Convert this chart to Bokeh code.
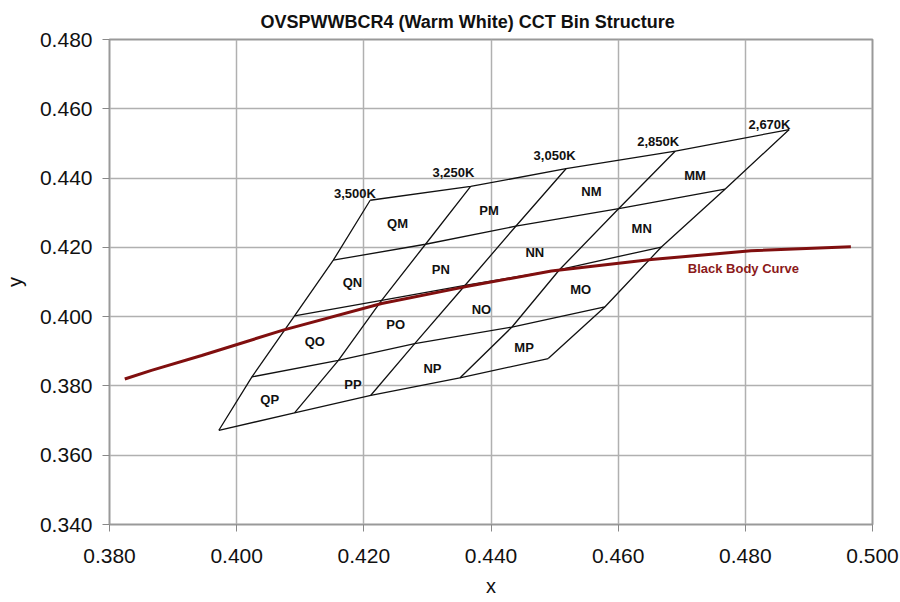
from bokeh.plotting import figure
from bokeh.models import Range1d, FixedTicker, NumeralTickFormatter, Title
from bokeh.core.properties import value
from bokeh.embed import file_html
from bokeh.resources import INLINE

FONT = "Liberation Sans"

# CCT boundary lines: points at rows [top, M/N, N/O, O/P, bottom]
cct_3500_x = [0.4210, 0.4152, 0.4091, 0.4024, 0.3972]
cct_3500_y = [0.4336, 0.4163, 0.4002, 0.3826, 0.3672]
cct_3250_x = [0.4368, 0.4297, 0.4228, 0.4160, 0.4091]
cct_3250_y = [0.4376, 0.4209, 0.4047, 0.3874, 0.3722]
cct_3050_x = [0.4518, 0.4439, 0.4359, 0.4280, 0.4211]
cct_3050_y = [0.4427, 0.4261, 0.4090, 0.3922, 0.3773]
cct_2850_x = [0.4690, 0.4601, 0.4508, 0.4433, 0.4351]
cct_2850_y = [0.4478, 0.4312, 0.4136, 0.3970, 0.3823]
cct_2670_x = [0.4869, 0.4768, 0.4668, 0.4579, 0.4490]
cct_2670_y = [0.4540, 0.4368, 0.4201, 0.4028, 0.3879]

# CCT labels
cct_names = ["3,500K", "3,250K", "3,050K", "2,850K", "2,670K"]
cct_label_x = [0.4186, 0.4341, 0.4500, 0.4663, 0.4838]
cct_label_y = [0.4355, 0.4415, 0.4466, 0.4507, 0.4555]

# Bin labels
bin_names = ["QM", "PM", "NM", "MM", "QN", "PN", "NN", "MN",
             "QO", "PO", "NO", "MO", "QP", "PP", "NP", "MP"]
bin_x = [0.4253, 0.4397, 0.4558, 0.4721, 0.4182, 0.4321, 0.4469, 0.4637,
         0.4123, 0.4250, 0.4385, 0.4541, 0.4052, 0.4183, 0.4308, 0.4452]
bin_y = [0.4269, 0.4305, 0.4360, 0.4406, 0.4098, 0.4137, 0.4184, 0.4255,
         0.3928, 0.3976, 0.4021, 0.4077, 0.3760, 0.3805, 0.3851, 0.3912]

# Black body curve
bb_x = [0.3824, 0.3866, 0.3945, 0.4073, 0.4228, 0.4359, 0.4495, 0.4652, 0.4809, 0.4966]
bb_y = [0.3820, 0.3845, 0.3888, 0.3961, 0.4038, 0.4086, 0.4132, 0.4165, 0.4190, 0.4202]
bb_label = "Black Body Curve"
bb_label_x = [0.4797]
bb_label_y = [0.4139]

x_ticks = [0.38, 0.40, 0.42, 0.44, 0.46, 0.48, 0.50]
y_ticks = [0.34, 0.36, 0.38, 0.40, 0.42, 0.44, 0.46, 0.48]

p = figure(width=900, height=602, output_backend="svg", toolbar_location=None,
           x_range=Range1d(0.38, 0.50), y_range=Range1d(0.34, 0.48),
           min_border_left=108, min_border_right=28, min_border_top=39, min_border_bottom=78,
           title=None)

p.add_layout(Title(text="OVSPWWBCR4 (Warm White) CCT Bin Structure", align="left", offset=151,
                   vertical_align="top", text_font=FONT, text_font_size="18px",
                   text_font_style="bold", text_color="#111111", standoff=12), "above")

p.outline_line_color = "#999999"
p.outline_line_width = 2
p.background_fill_color = "white"
p.border_fill_color = "white"

for ax in (p.xaxis[0], p.yaxis[0]):
    ax.formatter = NumeralTickFormatter(format="0.000")
    ax.major_label_text_font = FONT
    ax.major_label_text_font_size = "21px"
    ax.major_label_text_color = "#111111"
    ax.axis_label_text_font = FONT
    ax.axis_label_text_font_size = "20px"
    ax.axis_label_text_font_style = "normal"
    ax.axis_label_text_color = "#111111"
    ax.axis_line_color = "#999999"
    ax.major_tick_line_color = "#888888"
    ax.major_tick_in = 0
    ax.major_tick_out = 7
    ax.minor_tick_line_color = None
    ax.major_label_standoff = 10

p.xaxis[0].ticker = FixedTicker(ticks=x_ticks)
p.yaxis[0].ticker = FixedTicker(ticks=y_ticks)
p.xaxis[0].axis_label = "x"
p.yaxis[0].axis_label = "y"
p.xaxis[0].major_label_standoff = 17
p.xaxis[0].axis_label_standoff = 9
p.yaxis[0].axis_label_standoff = 11

p.xgrid.ticker = FixedTicker(ticks=x_ticks)
p.ygrid.ticker = FixedTicker(ticks=y_ticks)
for g in (p.xgrid[0], p.ygrid[0]):
    g.grid_line_color = "#b0b0b0"
    g.grid_line_width = 1.5

# Bin structure lines
cct_xs = [cct_3500_x, cct_3250_x, cct_3050_x, cct_2850_x, cct_2670_x]
cct_ys = [cct_3500_y, cct_3250_y, cct_3050_y, cct_2850_y, cct_2670_y]
xs = list(cct_xs)
ys = list(cct_ys)
for i in range(5):
    xs.append([c[i] for c in cct_xs])
    ys.append([c[i] for c in cct_ys])
p.multi_line(xs=xs, ys=ys, line_color="#111111", line_width=1.3)

# Black body curve
p.line(bb_x, bb_y, line_color="#800f0f", line_width=3)

# Labels
p.text(x=bin_x, y=bin_y, text=bin_names, text_font=value(FONT), text_font_size="13px",
       text_font_style="bold", text_color="#111111", text_align="center", text_baseline="middle")
p.text(x=cct_label_x, y=cct_label_y, text=cct_names, text_font=value(FONT), text_font_size="13px",
       text_font_style="bold", text_color="#111111", text_align="center", text_baseline="middle")
p.text(x=bb_label_x, y=bb_label_y, text=[bb_label], text_font=value(FONT), text_font_size="13px",
       text_font_style="bold", text_color="#8b1a1a", text_align="center", text_baseline="middle")

open("out.html", "w").write(file_html(p, INLINE))
